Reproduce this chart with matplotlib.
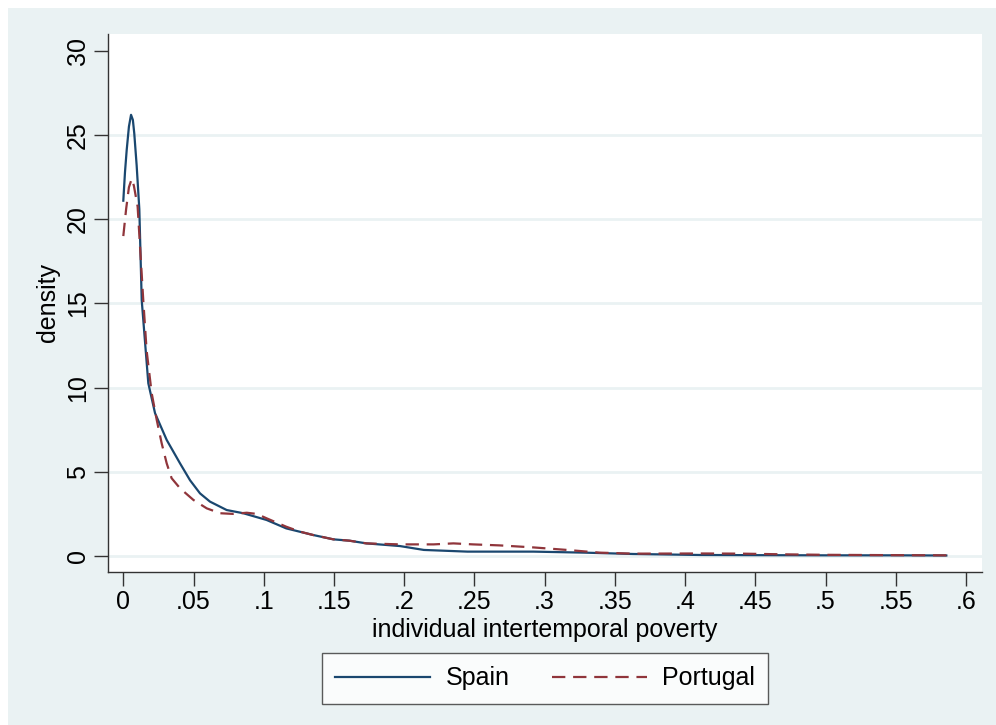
import numpy as np
import matplotlib.pyplot as plt
import matplotlib.patches as mpatches

plt.rcParams['font.family'] = ['Liberation Sans', 'DejaVu Sans']

# kernel density estimates
spain_x = [0.0, 0.0012, 0.0024, 0.004, 0.0055, 0.0068, 0.0078, 0.0095, 0.0114,
           0.0131, 0.015, 0.0178, 0.0226, 0.0309, 0.0404, 0.0475, 0.0546,
           0.0617, 0.0736, 0.0854, 0.102, 0.116, 0.135, 0.1495, 0.161, 0.173,
           0.197, 0.214, 0.245, 0.292, 0.328, 0.363, 0.411, 0.45, 0.5, 0.55, 0.586]
spain_y = [21.1, 22.8, 24.1, 25.5, 26.2, 25.9, 25.1, 23.2, 20.6,
           15.2, 13.2, 10.26, 8.48, 6.89, 5.5, 4.5, 3.72,
           3.23, 2.73, 2.54, 2.14, 1.64, 1.25, 0.99, 0.91, 0.75,
           0.59, 0.36, 0.26, 0.26, 0.2, 0.12, 0.06, 0.05, 0.04, 0.04, 0.03]

portugal_x = [0.0, 0.002, 0.004, 0.006, 0.0075, 0.0102, 0.0142, 0.0166, 0.0202,
              0.0238, 0.0273, 0.0309, 0.0344, 0.0404, 0.0499, 0.0594, 0.0689,
              0.0783, 0.0879, 0.095, 0.102, 0.116, 0.1257, 0.135, 0.1495, 0.161,
              0.173, 0.197, 0.221, 0.235, 0.249, 0.268, 0.292, 0.316, 0.339,
              0.363, 0.411, 0.44, 0.47, 0.5, 0.55, 0.586]
portugal_y = [19.0, 20.6, 21.9, 22.4, 22.0, 20.75, 15.2, 12.2, 9.67,
              8.08, 6.7, 5.5, 4.62, 4.02, 3.33, 2.83, 2.54,
              2.5, 2.57, 2.5, 2.24, 1.74, 1.45, 1.25, 0.99, 0.91,
              0.75, 0.69, 0.69, 0.75, 0.69, 0.63, 0.51, 0.36, 0.2,
              0.14, 0.15, 0.14, 0.1, 0.07, 0.05, 0.04]

x_ticks = [0, 0.05, 0.1, 0.15, 0.2, 0.25, 0.3, 0.35, 0.4, 0.45, 0.5, 0.55, 0.6]
x_labels = ['0', '.05', '.1', '.15', '.2', '.25', '.3', '.35', '.4', '.45', '.5', '.55', '.6']
y_ticks = [0, 5, 10, 15, 20, 25, 30]

bg = '#EAF2F3'
fs = 18
W, H = 996, 725
fig = plt.figure(figsize=(W / 100, H / 100), dpi=100, facecolor='white')
fig.patches.append(mpatches.Rectangle((8 / W, 0), 1 - 8 / W, 1 - 8 / H,
                                      transform=fig.transFigure, facecolor=bg,
                                      edgecolor='none', zorder=-10))

ax = fig.add_axes([108 / W, 1 - 572 / H, (982 - 108) / W, (572 - 34) / H])
ax.set_facecolor('white')

for yv in y_ticks[:-1]:
    ax.axhline(yv, color=bg, lw=2, zorder=1)

ax.plot(spain_x, spain_y, color='#1A476F', lw=1.6, zorder=3, label='Spain')
ax.plot(portugal_x, portugal_y, color='#90353B', lw=1.6, zorder=4,
        dashes=(6, 3.5), label='Portugal')

ax.set_xlim(-0.0109, 0.6114)
ax.set_ylim(-0.95, 31.0)
ax.set_xticks(x_ticks)
ax.set_xticklabels(x_labels)
ax.set_yticks(y_ticks)
ax.set_yticklabels([str(v) for v in y_ticks], rotation=90, va='center')

for s in ['top', 'right']:
    ax.spines[s].set_visible(False)
for s in ['left', 'bottom']:
    ax.spines[s].set_color('#333333')
    ax.spines[s].set_linewidth(1.0)
ax.tick_params(length=10, width=1.0, color='#333333', labelsize=fs, pad=3)

ax.set_xlabel('individual intertemporal poverty', fontsize=fs, labelpad=3)
ax.set_ylabel('density', fontsize=fs, labelpad=4)

leg = ax.legend(loc='upper center', bbox_to_anchor=(0.5, -0.150), ncol=2,
                fontsize=fs, frameon=True, fancybox=False, handlelength=3.8,
                columnspacing=1.7, handletextpad=0.6, borderpad=0.55,
                borderaxespad=0)
leg.get_frame().set_edgecolor('#333333')
leg.get_frame().set_linewidth(1.0)

fig.savefig('out.png', dpi=100, facecolor=fig.get_facecolor())
